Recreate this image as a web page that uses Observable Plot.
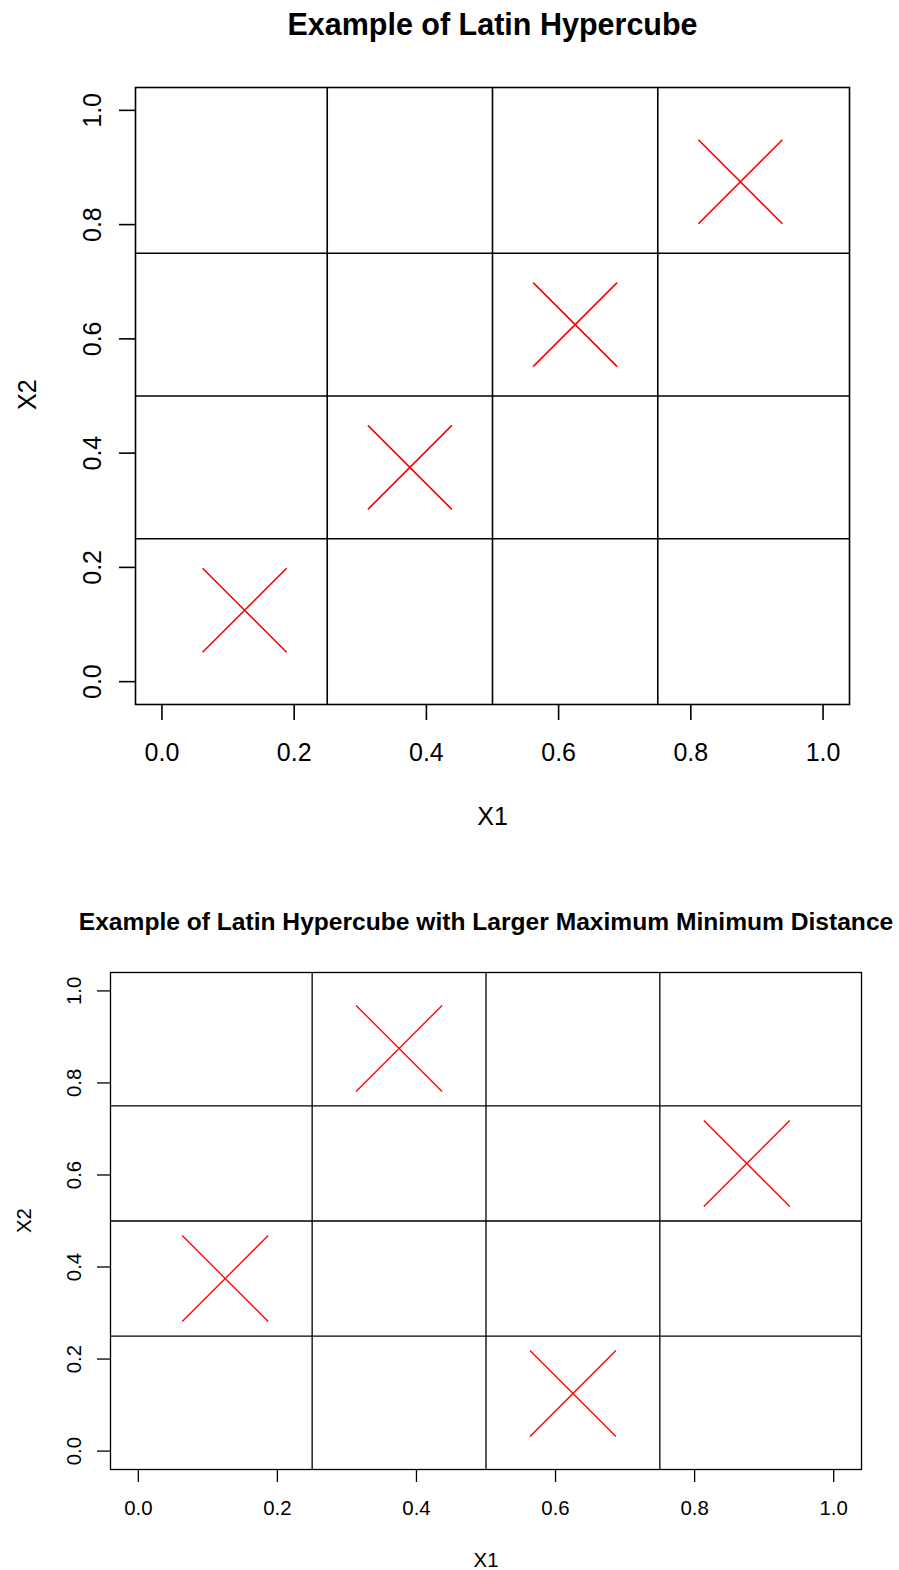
<!DOCTYPE html>
<html>
<head>
<meta charset="utf-8">
<script src="https://cdn.jsdelivr.net/npm/d3@7"></script>
<script src="https://cdn.jsdelivr.net/npm/@observablehq/plot@0.6"></script>
<style>
  html, body { margin: 0; padding: 0; background: #fff; }
  svg { display: block; }
</style>
</head>
<body>
<div id="top"></div>
<div id="bottom"></div>
<script>
// Axis ticks shared by both panels
const tickValues = [0, 0.2, 0.4, 0.6, 0.8, 1.0];
const tickLabels = ["0.0", "0.2", "0.4", "0.6", "0.8", "1.0"];
// Stratum boundaries of a 4-point Latin hypercube
const cuts = [0.25, 0.5, 0.75];

// Diagonal design
const diagX1 = [0.125, 0.375, 0.625, 0.875];
const diagX2 = [0.125, 0.375, 0.625, 0.875];

// Maximin design
const maximinX1 = [0.125, 0.375, 0.625, 0.875];
const maximinX2 = [0.375, 0.875, 0.125, 0.625];

const titles = [
  "Example of Latin Hypercube",
  "Example of Latin Hypercube with Larger Maximum Minimum Distance"
];

// An "x" marker (like R's pch = 4) sized by the dot radius
const cross = {
  draw(context, size) {
    const r = Math.sqrt(size / Math.PI);
    context.moveTo(-r, -r);
    context.lineTo(r, r);
    context.moveTo(-r, r);
    context.lineTo(r, -r);
  }
};

const domain = [-0.04, 1.04];
const fmt = (d) => tickLabels[tickValues.indexOf(d)];

function panel(xs, ys, title, o) {
  const pts = xs.map((x, i) => ({x, y: ys[i]}));
  return Plot.plot({
    width: 899,
    height: o.height,
    marginLeft: o.left,
    marginRight: o.right,
    marginTop: o.top,
    marginBottom: o.bottom,
    style: {fontFamily: "'Liberation Sans', Arial, Helvetica, sans-serif", background: "#fff", color: "#000", overflow: "visible"},
    x: {domain},
    y: {domain},
    marks: [
      Plot.ruleX(cuts, {stroke: "#000", strokeWidth: o.lw}),
      Plot.ruleY(cuts, {stroke: "#000", strokeWidth: o.lw}),
      Plot.frame({stroke: "#000", strokeWidth: o.lw}),
      Plot.axisX({ticks: tickValues, tickFormat: fmt, tickSize: o.tick, tickPadding: o.padX, fontSize: o.font, label: null, strokeWidth: o.lw}),
      Plot.axisY({ticks: tickValues, tickFormat: fmt, tickSize: o.tick, tickPadding: o.padY, tickRotate: -90, fontSize: o.font, label: null, strokeWidth: o.lw}),
      Plot.dot(pts, {x: "x", y: "y", symbol: cross, r: o.cross, fill: "none", stroke: "red", strokeWidth: o.lw}),
      Plot.text([title], {frameAnchor: "top", lineAnchor: "bottom", dy: o.titleDy, fontSize: o.titleSize, fontWeight: "bold"}),
      Plot.text(["X1"], {frameAnchor: "bottom", lineAnchor: "bottom", dy: o.x1Dy, fontSize: o.font}),
      Plot.text(["X2"], {frameAnchor: "left", lineAnchor: "bottom", rotate: -90, dx: o.x2Dx, dy: o.x2Dy, fontSize: o.font})
    ]
  });
}

document.getElementById("top").append(panel(diagX1, diagX2, titles[0], {
  height: 880, left: 135, right: 50, top: 87, bottom: 176,
  lw: 1.6, tick: 16, padX: 23, padY: 19, font: 25,
  cross: 42, titleDy: -53, titleSize: 30.5, x1Dy: 120, x2Dx: -100, x2Dy: 14
}));

document.getElementById("bottom").append(panel(maximinX1, maximinX2, titles[1], {
  height: 690, left: 110, right: 38, top: 92, bottom: 101,
  lw: 1.3, tick: 13, padX: 18.5, padY: 17, font: 20.4,
  cross: 43, titleDy: -42.7, titleSize: 24.6, x1Dy: 97, x2Dx: -80, x2Dy: 12
}));
</script>
</body>
</html>
